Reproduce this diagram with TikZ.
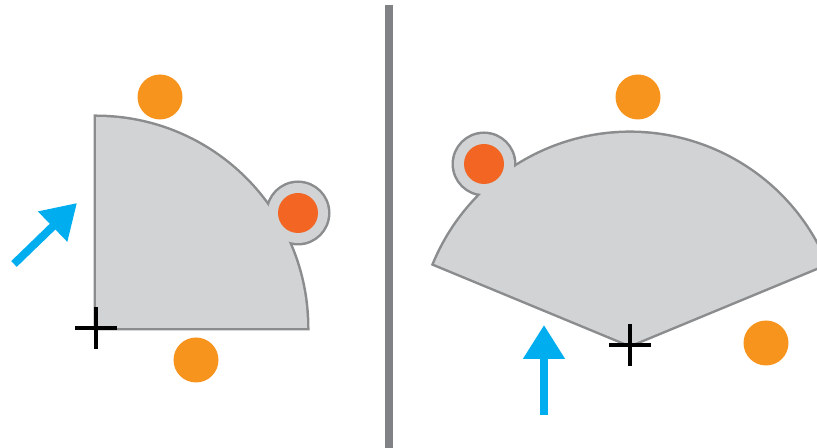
\documentclass[tikz,border=0pt]{standalone}
\usepackage{tikz}
\usetikzlibrary{arrows.meta}
\definecolor{platefill}{HTML}{D1D3D4}
\definecolor{platerim}{HTML}{8A8C8E}
\definecolor{dotorange}{HTML}{F7941D}
\definecolor{dotred}{HTML}{F26522}
\definecolor{pushblue}{HTML}{00AEEF}
\definecolor{divider}{HTML}{808285}

\begin{document}
\begin{tikzpicture}[x=0.02cm,y=0.02cm,
  rim/.style={draw=platerim,line width=0.1cm},
  plate/.style={fill=platefill},
  dot/.style={circle,fill=dotorange,minimum size=0.9cm,inner sep=0pt},
  hot/.style={circle,fill=dotred,minimum size=0.8cm,inner sep=0pt},
  push/.style={-{Triangle[length=0.68cm,width=0.8cm]},line width=0.16cm,draw=pushblue},
  crossline/.style={line width=0.065cm,black}]
\clip (0,0) rectangle (817,448);
% left: quarter plate
\coordinate (pivL) at (96,120);
\coordinate (bumpL) at (298,235);
\draw[rim] (pivL) -- ++(0,211) arc[start angle=90,end angle=0,radius=211] -- cycle;
\draw[rim] (bumpL) circle[radius=30];
\fill[plate] (pivL) -- ++(0,211) arc[start angle=90,end angle=0,radius=211] -- cycle;
\fill[plate] (bumpL) circle[radius=30];
\node[hot] (hotL) at (bumpL) {};
\node[dot] (topL) at (160,351) {};
\node[dot] (lowL) at (196,88) {};
\draw[crossline] (pivL) ++(-21,0) -- ++(42,0) (pivL) ++(0,-21) -- ++(0,42);
\coordinate (tailL) at (14,184);
\coordinate (tipL) at (77,245);
\draw[push] (tailL) -- (tipL);
% divider
\coordinate (divtop) at (389,443);
\coordinate (divbot) at (389,-10);
\draw[divider,line width=0.16cm] (divtop) -- (divbot);
% right: fan plate
\coordinate (pivR) at (630,103);
\coordinate (bumpR) at (484,284);
\draw[rim] (pivR) -- ++(22.5:212) arc[start angle=22.5,end angle=157.5,radius=212] -- cycle;
\draw[rim] (bumpR) circle[radius=30];
\fill[plate] (pivR) -- ++(22.5:212) arc[start angle=22.5,end angle=157.5,radius=212] -- cycle;
\fill[plate] (bumpR) circle[radius=30];
\node[hot] (hotR) at (bumpR) {};
\node[dot] (topR) at (638,351) {};
\node[dot] (lowR) at (766,105) {};
\draw[crossline] (pivR) ++(-21,0) -- ++(42,0) (pivR) ++(0,-21) -- ++(0,42);
\coordinate (tailR) at (544,33);
\coordinate (tipR) at (544,123);
\draw[push] (tailR) -- (tipR);
\end{tikzpicture}
\end{document}
